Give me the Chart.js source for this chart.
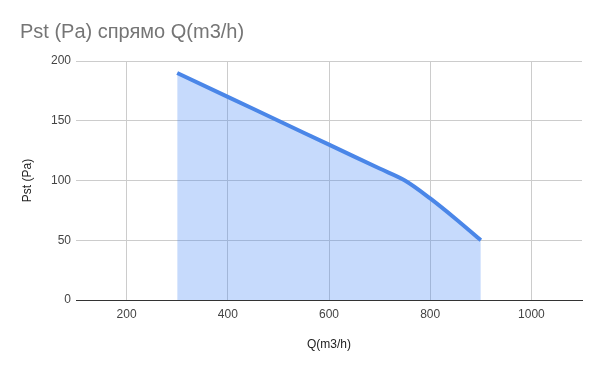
<!DOCTYPE html>
<html>
<head>
<meta charset="utf-8">
<script src="https://cdn.jsdelivr.net/npm/chart.js@4"></script>
<style>
  html, body { margin: 0; padding: 0; background: #fff; }
  .chart-container { width: 600px; height: 371px; }
</style>
</head>
<body>
<div class="chart-container">
  <canvas id="myChart" width="600" height="371"></canvas>
</div>
<script>
const flowValues = [300, 400, 500, 600, 700, 750, 800, 850, 900];
const pressureValues = [190, 170, 150, 130, 110, 100, 85, 68, 50];
const xTickValues = [200, 400, 600, 800, 1000];
const yTickValues = [0, 50, 100, 150, 200];

Chart.defaults.font.family = '"Liberation Sans", Arial, sans-serif';

const points = flowValues.map((q, i) => ({ x: q, y: pressureValues[i] }));

const ctx = document.getElementById('myChart').getContext('2d');
const myChart = new Chart(ctx, {
    type: 'line',
    data: {
        datasets: [{
            label: 'Pst (Pa)',
            data: points,
            borderColor: '#4a86e8',
            backgroundColor: 'rgba(66, 133, 244, 0.3)',
            borderWidth: 4,
            pointRadius: 0,
            fill: 'origin',
            cubicInterpolationMode: 'monotone',
        }]
    },
    options: {
        responsive: false,
        animation: false,
        layout: { padding: { left: 20, right: 18, top: 0, bottom: 0 } },
        plugins: {
            legend: { display: false },
            tooltip: { enabled: false },
            title: {
                display: true,
                text: 'Pst (Pa) спрямо Q(m3/h)',
                align: 'start',
                color: '#757575',
                font: { size: 20, weight: 'normal' },
                padding: { top: 20, bottom: 17 },
            },
        },
        scales: {
            x: {
                type: 'linear',
                min: 100,
                max: 1100,
                afterBuildTicks: s => { s.ticks = xTickValues.map(v => ({ value: v })); },
                afterFit: s => { s.height = 71; },
                grid: { color: '#cccccc', drawTicks: false },
                border: { display: true, color: '#333333', width: 1 },
                ticks: { color: '#444444', font: { size: 12 }, padding: 7, callback: v => String(v) },
                title: {
                    display: true,
                    text: 'Q(m3/h)',
                    color: '#222222',
                    font: { size: 12 },
                    padding: { top: 0, bottom: 19 },
                },
            },
            y: {
                min: 0,
                max: 200,
                afterBuildTicks: s => { s.ticks = yTickValues.map(v => ({ value: v })); },
                afterFit: s => { s.width = 56; },
                grid: { color: '#cccccc', drawTicks: false },
                border: { display: false },
                ticks: { color: '#444444', font: { size: 12 }, padding: 5 },
                title: {
                    display: true,
                    text: 'Pst (Pa)',
                    color: '#222222',
                    font: { size: 12 },
                    padding: 0,
                },
            },
        },
    },
});
</script>
</body>
</html>
